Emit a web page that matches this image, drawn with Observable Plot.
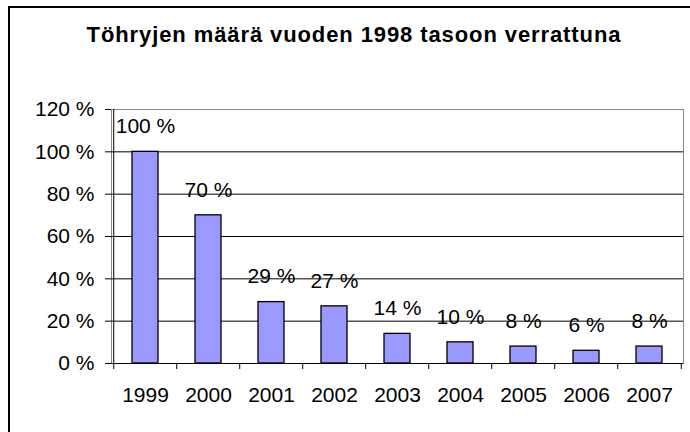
<!DOCTYPE html>
<html><head><meta charset="utf-8">
<script src="https://cdn.jsdelivr.net/npm/d3@7"></script>
<script src="https://cdn.jsdelivr.net/npm/@observablehq/plot@0.6"></script>
<style>
body{margin:0;background:#fff;}
#wrap{position:relative;width:690px;height:432px;overflow:hidden;font-family:"Liberation Sans",Arial,sans-serif;background:#fff;}
.bline{position:absolute;background:#000;pointer-events:none;z-index:10;}
#btop{left:8px;top:6px;width:682px;height:2px;}
#bleft{left:8px;top:6px;width:2px;height:426px;}
#title{height:60px;box-sizing:border-box;padding-top:23px;padding-left:18px;text-align:center;font-weight:bold;font-size:22px;line-height:24px;letter-spacing:0.9px;color:#000;white-space:nowrap;}
</style></head><body>
<div id="wrap"><div id="title">Töhryjen määrä vuoden 1998 tasoon verrattuna</div><div id="chart"></div><div class="bline" id="btop"></div><div class="bline" id="bleft"></div></div>
<script>
const years = ["1999","2000","2001","2002","2003","2004","2005","2006","2007"];
const values = [100, 70, 29, 27, 14, 10, 8, 6, 8];
const valueLabels = ["100 %","70 %","29 %","27 %","14 %","10 %","8 %","6 %","8 %"];
const yTicks = [0, 20, 40, 60, 80, 100, 120];
const gridTicks = [0, 20, 40, 60, 80, 100];

const data = years.map((y, i) => ({year: y, value: values[i], label: valueLabels[i]}));

const W = 690, H = 372, mL = 111, mR = 7, mT = 49, mB = 69;
const step = (W - mL - mR) / years.length;

const chart = Plot.plot({
  width: W, height: H,
  marginLeft: mL, marginRight: mR, marginTop: mT, marginBottom: mB,
  style: {fontFamily: '"Liberation Sans", Arial, sans-serif', fontSize: "21px", color: "#000", background: "transparent"},
  x: {domain: years, paddingInner: 0.59, paddingOuter: 0.295},
  y: {domain: [0, 120]},
  marks: [
    Plot.frame({stroke: "#888", strokeWidth: 1}),
    Plot.ruleY(gridTicks, {stroke: "#000", strokeWidth: 1}),
    Plot.ruleX([years[0]], {dx: -step / 2, stroke: "#000", strokeWidth: 1}),
    Plot.ruleX(years, {x: d => d, y1: 0, y2: 0, insetBottom: -6, dx: -step / 2, stroke: "#000"}),
    Plot.ruleX([years[years.length - 1]], {x: d => d, y1: 0, y2: 0, insetBottom: -6, dx: step / 2, stroke: "#000"}),
    Plot.barY(data, {x: "year", y: "value", fill: "#9999ff", stroke: "#000", strokeWidth: 1.3}),
    Plot.text(data, {x: "year", y: "value", text: "label", dy: -25.5, fontSize: 21, fill: "#000"}),
    Plot.axisY({ticks: yTicks, tickFormat: d => `${d} %`, tickSize: 6, tickPadding: 11, fontSize: 21, label: null}),
    Plot.axisX({tickSize: 0, tickPadding: 24, fontSize: 21, label: null})
  ]
});
document.getElementById("chart").appendChild(chart);
</script>
</body></html>
